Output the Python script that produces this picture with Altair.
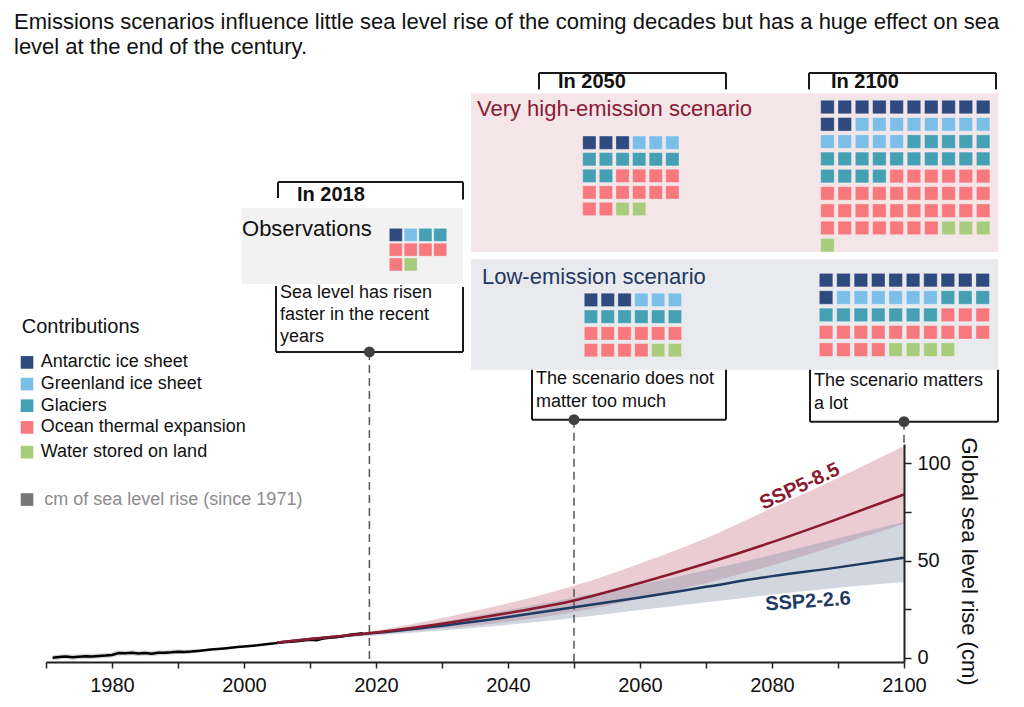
import altair as alt
import pandas as pd

FONT = "Liberation Sans"

# ---------------- data ----------------
categories = ["Antarctic ice sheet", "Greenland ice sheet", "Glaciers",
              "Ocean thermal expansion", "Water stored on land"]
category_colors = ["#2f4a7e", "#7bbfe8", "#46a0b4", "#f7787d", "#a8cc7c"]

# squares per contribution (legend order)
cells_obs_2018 = [1, 1, 2, 5, 1]
cells_high_2050 = [3, 3, 8, 12, 2]
cells_high_2100 = [12, 13, 19, 33, 4]
cells_low_2050 = [3, 3, 6, 10, 2]
cells_low_2100 = [11, 6, 10, 17, 4]

obs_years = [1971, 1972, 1973, 1974, 1975, 1976, 1977, 1978, 1979, 1980, 1981, 1982,
             1983, 1984, 1985, 1986, 1987, 1988, 1989, 1990, 1991, 1992, 1993, 1995,
             1997, 1999, 2000, 2002, 2004, 2006, 2008, 2010, 2011, 2012, 2013, 2014,
             2015, 2016, 2017, 2018]
obs_cm = [0.0, 0.4, 0.6, 0.3, 0.5, 0.7, 0.6, 0.9, 1.1, 1.4, 2.4, 2.3,
          2.6, 2.2, 2.4, 2.1, 2.5, 2.6, 2.8, 3.1, 3.0, 3.2, 3.5, 4.2,
          4.8, 5.5, 5.8, 6.4, 7.2, 7.9, 8.5, 9.3, 9.0, 9.9, 10.3, 10.5,
          11.1, 11.8, 12.2, 12.6]
obs_halfwidth = [1.3, 1.3, 1.3, 1.3, 1.3, 1.3, 1.3, 1.3, 1.3, 1.3, 1.3, 1.3,
                 1.3, 1.3, 1.3, 1.3, 1.3, 1.3, 1.3, 1.2, 1.1, 1.0, 0.8, 0.5,
                 0.4, 0.4, 0.4, 0.4, 0.4, 0.4, 0.4, 0.4, 0.4, 0.4, 0.4, 0.4,
                 0.4, 0.4, 0.4, 0.4]

proj_years = [2005, 2010, 2020, 2030, 2040, 2050, 2060, 2070, 2080, 2090, 2100]
ssp585_median = [7.8, 9.6, 13.0, 17.5, 23.0, 29.5, 38.5, 48.5, 59.5, 71.5, 84.0]
ssp585_low = [7.8, 9.3, 12.0, 15.0, 18.5, 23.5, 30.5, 38.5, 47.5, 58.0, 69.0]
ssp585_high = [7.8, 9.9, 14.0, 20.5, 28.0, 37.0, 48.5, 61.5, 77.0, 92.5, 109.0]
ssp126_median = [7.8, 9.6, 12.8, 16.5, 21.0, 26.0, 31.0, 36.5, 42.0, 46.5, 51.5]
ssp126_low = [7.8, 9.3, 11.5, 14.0, 17.0, 20.5, 24.5, 28.5, 32.5, 36.0, 39.0]
ssp126_high = [7.8, 9.9, 13.5, 18.5, 24.5, 31.0, 37.5, 45.0, 53.0, 61.5, 70.0]

x_tick_values = [1970, 1980, 1990, 2000, 2010, 2020, 2030, 2040, 2050, 2060, 2070, 2080, 2090, 2100]
y_tick_values = [0, 25, 50, 75, 100]

title_lines = ["Emissions scenarios influence little sea level rise of the coming decades but has a huge effect on sea",
               "level at the end of the century."]
obs_text = ["Sea level has risen", "faster in the recent", "years"]
mid_text = ["The scenario does not", "matter too much"]
end_text = ["The scenario matters", "a lot"]
marker_years = [2019, 2050, 2100]

# ---------------- layout (year / cm units) ----------------
PX_PER_YEAR = 6.6
PX_PER_CM = 1.946
XS = alt.Scale(domain=[1970, 2100], nice=False, zero=False)
YS = alt.Scale(domain=[-2.2, 110], nice=False, zero=False)
COLOR = alt.Color("cat:N", scale=alt.Scale(domain=categories, range=category_colors), legend=None)

X_AXIS = alt.Axis(values=x_tick_values, format="d",
                  labelExpr="datum.value % 20 == 0 ? datum.label : ''",
                  labelFont=FONT, labelFontSize=20, labelColor="#111111", labelFlush=False,
                  labelOverlap=False, labelPadding=7, tickSize=6, tickColor="#222222",
                  tickWidth=1.5, domainColor="#222222", domainWidth=2, grid=False, title=None)
Y_AXIS = alt.Axis(orient="right", values=y_tick_values, format="d",
                  labelExpr="datum.value % 50 == 0 ? datum.label : ''",
                  labelFont=FONT, labelFontSize=20, labelColor="#111111", labelFlush=False,
                  labelOverlap=False, labelPadding=6, tickSize=7, tickColor="#222222",
                  tickWidth=1.5, domainColor="#222222", domainWidth=2, grid=False,
                  title="Global sea level rise (cm)", titleFont=FONT, titleFontSize=22,
                  titleFontWeight="normal", titleColor="#111111", titleAngle=90, titlePadding=6,
                  titleY=117, zindex=1)


def X(f="x"):
    return alt.X(f"{f}:Q", scale=XS, axis=X_AXIS)


def Y(f="y"):
    return alt.Y(f"{f}:Q", scale=YS, axis=Y_AXIS)


def text_layer(rows, size, color="#111111", weight="normal", align="left", angle=0):
    df = pd.DataFrame(rows, columns=["x", "y", "t"])
    return alt.Chart(df).mark_text(font=FONT, fontSize=size, color=color, fontWeight=weight,
                                   align=align, baseline="middle", angle=angle).encode(
        x=X(), y=Y(), text="t:N")


def lines_block(start_x, start_y, lines, step):
    return [(start_x, start_y - i * step, s) for i, s in enumerate(lines)]


def waffle(counts, left, top, ncols, pitch_px, cell_px):
    dx, dy = pitch_px / PX_PER_YEAR, pitch_px / PX_PER_CM
    cw, ch = cell_px / PX_PER_YEAR, cell_px / PX_PER_CM
    out, i = [], 0
    for cat, n in zip(categories, counts):
        for _ in range(n):
            c, r = i % ncols, i // ncols
            x, y = left + c * dx, top - r * dy
            out.append(dict(cat=cat, x=x, x2=x + cw, y=y, y2=y - ch))
            i += 1
    return out


def bracket(left, right, yline, yend_left, yend_right):
    return [dict(x=left, x2=right, y=yline, y2=yline),
            dict(x=left, x2=left, y=yline, y2=yend_left),
            dict(x=right, x2=right, y=yline, y2=yend_right)]


layers = []

# background boxes
boxes = pd.DataFrame([
    dict(x=1999.65, x2=2033.18, y=231.4, y2=192.3, c="#f2f2f2"),
    dict(x=2034.39, x2=2114.24, y=290.5, y2=208.8, c="#f3e5e8"),
    dict(x=2034.39, x2=2114.24, y=205.2, y2=148.2, c="#e9eaee"),
])
layers.append(alt.Chart(boxes).mark_rect().encode(
    x=X(), x2="x2:Q", y=Y(), y2="y2:Q", fill=alt.Fill("c:N", scale=None)))

# waffles
cells = (waffle(cells_obs_2018, 2022.02, 220.97, 4, 14.8, 13.0)
         + waffle(cells_high_2050, 2051.32, 268.5, 6, 16.6, 13.3)
         + waffle(cells_high_2100, 2087.38, 286.9, 10, 17.3, 13.5)
         + waffle(cells_low_2050, 2051.56, 187.6, 6, 16.8, 13.3)
         + waffle(cells_low_2100, 2087.17, 197.8, 10, 17.4, 13.5))
layers.append(alt.Chart(pd.DataFrame(cells)).mark_rect(stroke="#ffffff", strokeWidth=0.6,
                                                       strokeOpacity=0.5).encode(
    x=X(), x2="x2:Q", y=Y(), y2="y2:Q", color=COLOR))

# brackets
segs = (bracket(2005.15, 2033.18, 244.8, 236.6, 235.8)
        + bracket(2044.70, 2073.03, 301.0, 292.5, 292.5)
        + bracket(2085.61, 2113.94, 301.0, 292.5, 292.5)
        + bracket(2004.85, 2033.18, 157.4, 191.3, 190.8)
        + bracket(2043.64, 2073.03, 122.5, 148.2, 148.2)
        + bracket(2085.76, 2114.24, 121.5, 148.2, 148.2))
layers.append(alt.Chart(pd.DataFrame(segs)).mark_rule(color="#1a1a1a", strokeWidth=2).encode(
    x=X(), x2="x2:Q", y=Y(), y2="y2:Q"))

# texts
layers.append(text_layer(lines_block(1965.15, 327.0, title_lines, 12.8), 22))
layers.append(text_layer([(2008.03, 238.1, "In 2018"), (2047.58, 296.1, "In 2050"),
                          (2088.94, 296.1, "In 2100")], 20, weight="bold"))
layers.append(text_layer([(1999.70, 220.6, "Observations")], 22))
layers.append(text_layer([(2035.30, 282.5, "Very high-emission scenario")], 22, color="#8b1a35"))
layers.append(text_layer([(2036.06, 196.0, "Low-emission scenario")], 22, color="#1f3864"))
layers.append(text_layer(lines_block(2005.45, 187.6, obs_text, 11.15)
                         + lines_block(2044.24, 143.5, mid_text, 11.8)
                         + lines_block(2086.36, 142.5, end_text, 11.8), 18))

# legend
leg_rows = []
for i, (cat, col) in enumerate(zip(categories, category_colors)):
    yc = 152.0 - i * 11.15 - (1.6 if i == len(categories) - 1 else 0.0)
    leg_rows.append(dict(cat=cat, x=1966.17, x2=1968.08, y=yc + 3.26, y2=yc - 3.26, ty=yc, tx=1969.2))
leg = pd.DataFrame(leg_rows)
layers.append(alt.Chart(leg).mark_rect().encode(x=X(), x2="x2:Q", y=Y(), y2="y2:Q", color=COLOR))
layers.append(alt.Chart(leg).mark_text(font=FONT, fontSize=18, color="#111111", align="left",
                                       baseline="middle").encode(x=X("tx"), y=Y("ty"), text="cat:N"))
layers.append(text_layer([(1966.32, 170.4, "Contributions")], 20))
gray = pd.DataFrame([dict(x=1966.17, x2=1968.08, y=81.4 + 3.26, y2=81.4 - 3.26)])
layers.append(alt.Chart(gray).mark_rect(color="#777777").encode(x=X(), x2="x2:Q", y=Y(), y2="y2:Q"))
layers.append(text_layer([(1969.74, 81.4, "cm of sea level rise (since 1971)")], 18, color="#8c8c8c"))

# ---------------- time series ----------------
obs = pd.DataFrame(dict(x=obs_years, y=obs_cm,
                        lo=[v - h for v, h in zip(obs_cm, obs_halfwidth)],
                        hi=[v + h for v, h in zip(obs_cm, obs_halfwidth)]))
proj = pd.DataFrame(dict(x=proj_years, m85=ssp585_median, l85=ssp585_low, h85=ssp585_high,
                         m26=ssp126_median, l26=ssp126_low, h26=ssp126_high))

layers.append(alt.Chart(proj).mark_area(color="#b5485f", opacity=0.28, interpolate="monotone").encode(
    x=X(), y=Y("l85"), y2="h85:Q"))
layers.append(alt.Chart(proj).mark_area(color="#8794ab", opacity=0.38, interpolate="monotone").encode(
    x=X(), y=Y("l26"), y2="h26:Q"))
layers.append(alt.Chart(obs).mark_area(color="#bbbbbb", opacity=0.6, interpolate="monotone").encode(
    x=X(), y=Y("lo"), y2="hi:Q"))

# dashed markers
mk = pd.DataFrame(dict(x=marker_years, y=[157.4, 122.5, 121.5], y2=[-2.2, -2.2, 110]))
layers.append(alt.Chart(mk).mark_rule(color="#555555", strokeWidth=1.5, strokeDash=[8, 5]).encode(
    x=X(), y=Y(), y2="y2:Q"))

# observed + projected lines
layers.append(alt.Chart(obs).mark_line(color="#000000", strokeWidth=2.5).encode(x=X(), y=Y()))
layers.append(alt.Chart(proj).mark_line(color="#1f3a63", strokeWidth=2.5, interpolate="monotone").encode(
    x=X(), y=Y("m26")))
layers.append(alt.Chart(proj).mark_line(color="#8b1a2f", strokeWidth=2.5, interpolate="monotone").encode(
    x=X(), y=Y("m85")))

# dots
layers.append(alt.Chart(mk).mark_circle(color="#404040", size=120, opacity=1).encode(x=X(), y=Y()))

# scenario labels
layers.append(text_layer([(2084.2, 88.1, "SSP5-8.5")], 20, color="#8b1a2f", weight="bold",
                         align="center", angle=335))
layers.append(text_layer([(2085.45, 28.9, "SSP2-2.6")], 20, color="#1f3a63", weight="bold",
                         align="center", angle=356))

chart = alt.layer(*layers).properties(
    width=858, height=218,
    autosize=alt.AutoSizeParams(type="none"),
    padding={"left": 38, "top": 436, "right": 112, "bottom": 37},
).configure_view(stroke=None)

chart.save("out.html", embed_options={"renderer": "svg", "actions": False})
